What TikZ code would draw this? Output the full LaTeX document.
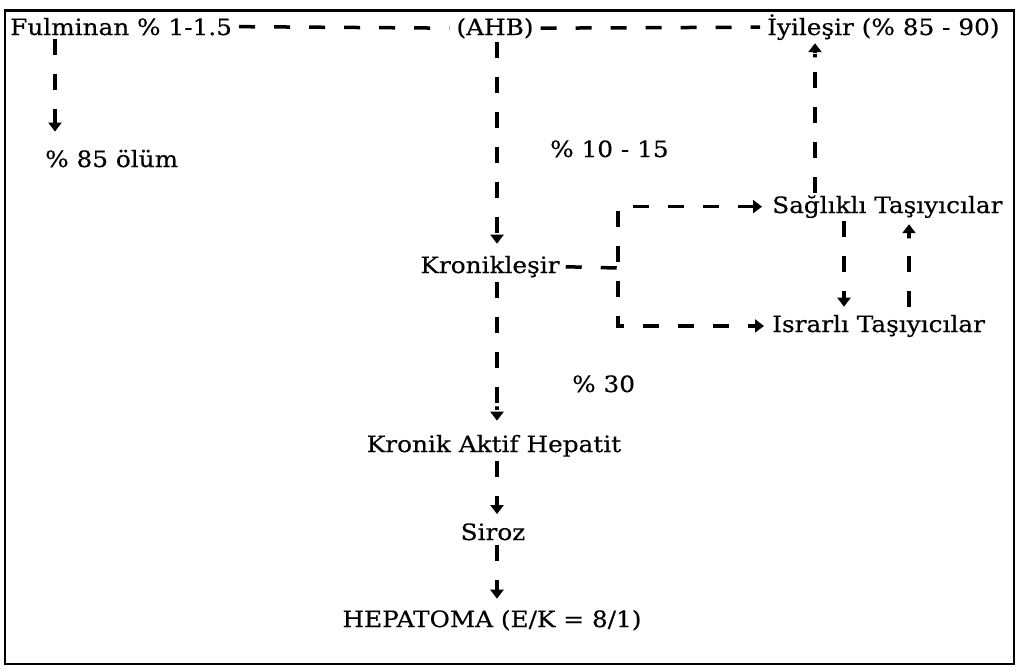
\documentclass[tikz,border=0pt]{standalone}
\usepackage{fontspec}
\setmainfont[FakeStretch=1.1,FakeBold=0.4]{DejaVu Serif}
\usetikzlibrary{arrows.meta}
\begin{document}
\begin{tikzpicture}[x=1pt,y=-1pt,
  lbl/.style={inner sep=0pt, font=\fontsize{22.5}{26}\selectfont},
  dl/.style={line width=3.5pt, dash pattern=on 16pt off 19pt},
  ar/.style={-{Rectangle[length=7pt,width=3.5pt]Triangle[length=9pt,width=13pt]}},
  arr/.style={{Triangle[length=9pt,width=13pt]Rectangle[length=7pt,width=3.5pt]}-{Rectangle[length=7pt,width=3.5pt]Triangle[length=9pt,width=13pt]}}]
\useasboundingbox (0,0) rectangle (1020,670);
\draw[line width=1.5pt] (5,10) rectangle (1014,664);
\draw[line width=3pt] (5,10) -- (1014,10);
% nodes
\node[lbl, anchor=base west] (ful) at (10,35) {Fulminan \% 1-1.5};
\node[lbl, anchor=base] (ahb) at (495,35) {(AHB)};
\node[lbl, anchor=base west] (iyi) at (767,35) {İyileşir (\% 85 - 90)};
\node[lbl, anchor=base west] (olum) at (45,167) {\% 85 ölüm};
\node[lbl, anchor=base west] (p1015) at (550,157) {\% 10 - 15};
\node[lbl, anchor=base west] (sag) at (772,213) {Sağlıklı Taşıyıcılar};
\node[lbl, anchor=base] (kron) at (490,273) {Kronikleşir};
\node[lbl, anchor=base west] (isr) at (772,332) {Israrlı Taşıyıcılar};
\node[lbl, anchor=base west] (p30) at (572,392) {\% 30};
\node[lbl, anchor=base] (kah) at (494,452) {Kronik Aktif Hepatit};
\node[lbl, anchor=base] (siroz) at (493,540) {Siroz};
\node[lbl, anchor=base] (hep) at (492,627) {HEPATOMA (E/K = 8/1)};
% helper coordinates
\coordinate (sp) at (497,0);
\coordinate (cl) at (55,0);
\coordinate (ci) at (815,0);
\coordinate (cd) at (844,0);
\coordinate (cu) at (909,0);
\coordinate (br) at (618,268);
% connectors
\draw[dl, shorten <=7pt, shorten >=7pt] (ful.east) -- (ahb.west);
\draw[dl, shorten <=7pt, shorten >=7pt] (ahb.east) -- (iyi.west);
\draw[dl, ar, shorten <=3pt, shorten >=18pt] (ful.south -| cl) -- (olum.north -| cl);
\draw[dl, ar, shorten <=3pt, shorten >=12pt] (ahb.south -| sp) -- (kron.north -| sp);
\draw[dl, ar, shorten <=2pt, shorten >=3pt] (sag.north -| ci) -- (iyi.south -| ci);
\draw[dl, shorten <=6pt] (kron.east) -- (br);
\draw[dl, arr, shorten <=10pt, shorten >=8pt]
  (sag.west) -- (sag.west -| br) -- (isr.west -| br) -- (isr.west);
\draw[dl, ar, shorten <=3pt, shorten >=8pt] (sag.south -| cd) -- (isr.north -| cd);
\draw[dl, ar, shorten <=8pt, shorten >=6pt] (isr.north -| cu) -- (sag.south -| cu);
\draw[dl, ar, shorten <=4pt, shorten >=14pt] (kron.south -| sp) -- (kah.north -| sp);
\draw[dl, ar, shorten <=4pt, shorten >=9pt] (kah.south -| sp) -- (siroz.north -| sp);
\draw[dl, ar, shorten <=4pt, shorten >=11pt] (siroz.south -| sp) -- (hep.north -| sp);
\end{tikzpicture}
\end{document}
